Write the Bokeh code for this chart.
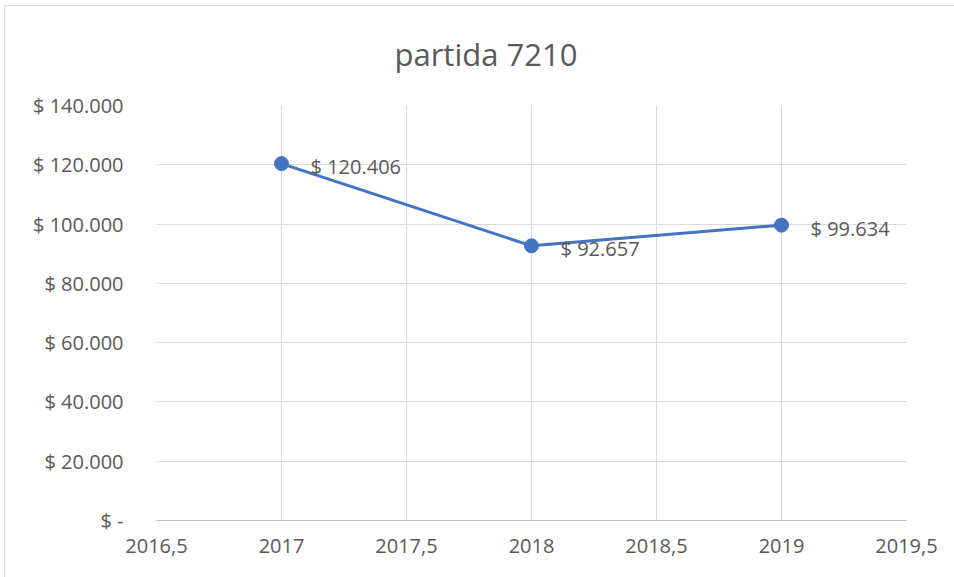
from bokeh.plotting import figure
from bokeh.models import FixedTicker, ColumnDataSource, Range1d
from bokeh.embed import file_html
from bokeh.resources import INLINE
from bokeh.core.properties import value

# ---- data ----
years = [2017, 2018, 2019]
amounts = [120406, 92657, 99634]
amount_labels = ["$ 120.406", "$ 92.657", "$ 99.634"]

x_ticks = [2016.5, 2017, 2017.5, 2018, 2018.5, 2019, 2019.5]
x_tick_labels = ["2016,5", "2017", "2017,5", "2018", "2018,5", "2019", "2019,5"]
y_ticks = [0, 20000, 40000, 60000, 80000, 100000, 120000, 140000]
y_tick_labels = ["$ -", "$ 20.000", "$ 40.000", "$ 60.000", "$ 80.000",
                 "$ 100.000", "$ 120.000", "$ 140.000"]
title_text = "partida 7210"

FONT = "Open Sans"
TXT = "#595959"
BLUE = "#4472C4"
GRID = "#d9d9d9"

p = figure(width=954, height=577, output_backend="svg", toolbar_location=None,
           x_range=Range1d(x_ticks[0], x_ticks[-1]),
           y_range=Range1d(y_ticks[0], y_ticks[-1]),
           min_border_left=156, min_border_right=48,
           min_border_top=105, min_border_bottom=57)

p.outline_line_color = None
p.background_fill_color = "white"
p.border_fill_color = None

# chart-area border drawn behind the canvas (top and left edges visible)
p.styles = {
    "background": ("linear-gradient(#d9d9d9, #d9d9d9) 4px 5px / 1px 100% no-repeat, "
                   "linear-gradient(#d9d9d9, #d9d9d9) 4px 5px / 100% 1px no-repeat, white"),
}

p.title.text = title_text
p.title.text_font = FONT
p.title.text_font_size = "31px"
p.title.text_font_style = "normal"
p.title.text_color = TXT
p.title.align = "left"
p.title.offset = 238
p.title.standoff = 61

# grids
p.xgrid.ticker = FixedTicker(ticks=x_ticks)
p.ygrid.ticker = FixedTicker(ticks=y_ticks)
p.xgrid.grid_line_color = GRID
p.ygrid.grid_line_color = GRID
p.xgrid.grid_line_width = 1
p.ygrid.grid_line_width = 1

# x axis
xa = p.xaxis[0]
xa.ticker = FixedTicker(ticks=x_ticks)
xa.major_label_overrides = {t: l for t, l in zip(x_ticks, x_tick_labels)}
xa.axis_line_color = "#bfbfbf"
xa.axis_line_width = 1
xa.major_tick_line_color = None
xa.minor_tick_line_color = None
xa.major_tick_out = 0
xa.major_tick_in = 0
xa.major_label_standoff = 18
xa.major_label_text_font = FONT
xa.major_label_text_font_size = "20px"
xa.major_label_text_color = TXT

# y axis
ya = p.yaxis[0]
ya.ticker = FixedTicker(ticks=y_ticks)
ya.major_label_overrides = {t: l for t, l in zip(y_ticks, y_tick_labels)}
ya.axis_line_color = None
ya.major_tick_line_color = None
ya.minor_tick_line_color = None
ya.major_tick_out = 0
ya.major_tick_in = 0
ya.major_label_standoff = 33
ya.major_label_text_font = FONT
ya.major_label_text_font_size = "20px"
ya.major_label_text_color = TXT

src = ColumnDataSource(dict(x=years, y=amounts, lab=amount_labels))

p.line("x", "y", source=src, line_color=BLUE, line_width=3)
p.scatter("x", "y", source=src, size=14, fill_color=BLUE, line_color=BLUE)
p.text("x", "y", text="lab", source=src, x_offset=29, y_offset=3,
       text_align="left", text_baseline="middle",
       text_font=value(FONT), text_font_size="20px", text_color=TXT)

open("out.html", "w").write(file_html(p, INLINE))
